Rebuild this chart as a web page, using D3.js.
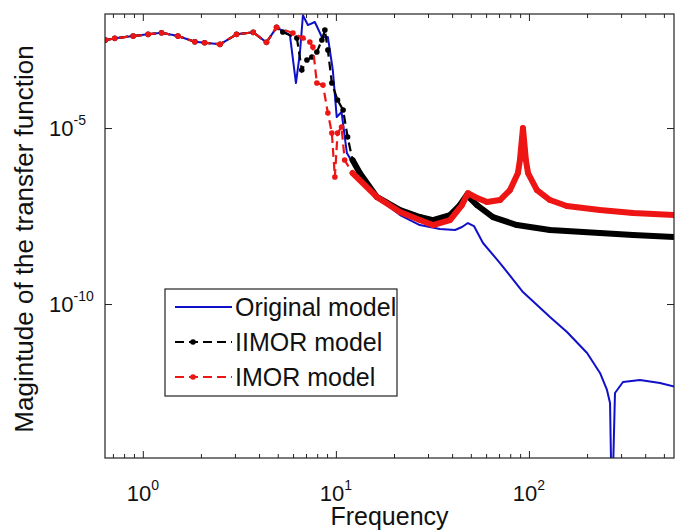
<!DOCTYPE html>
<html>
<head>
<meta charset="utf-8">
<script src="https://cdn.jsdelivr.net/npm/d3@7"></script>
<style>
  html, body { margin: 0; padding: 0; background: #fff; }
  svg { display: block; }
  text { font-family: "Liberation Sans", Arial, sans-serif; fill: #111; }
</style>
</head>
<body>
<svg id="chart" width="676" height="530"></svg>
<script>
// ---- data ----
// shared low-frequency part (all three models coincide)
const lowFreq = [0.64, 0.716, 0.891, 1.065, 1.25, 1.52, 1.86, 2.09, 2.51, 3.06, 3.73, 4.37, 4.93];
const lowMag  = [3.16e-3, 3.53e-3, 4.11e-3, 4.59e-3, 5.09e-3, 4.11e-3, 2.83e-3, 2.65e-3, 2.39e-3, 4.59e-3, 5.23e-3, 2.72e-3, 7.26e-3];

// Original model
const origFreq = [5.78, 6.21, 6.51, 6.75, 7.16, 7.78, 8.46, 9.09, 9.64, 10.1, 10.7, 11.4, 13.3, 16.9, 21.5, 27.2, 34.6, 41.4, 45.0, 48.3, 51.9, 57.8, 70.8, 93.1, 128.5, 157.4, 200, 233.4, 253.6, 263, 269, 279, 307, 376, 477, 578];
const origMag  = [4.39e-3, 1.90e-4, 1.35e-3, 1.6e-2, 8.43e-3, 1.03e-2, 3.85e-3, 3.85e-3, 4.45e-4, 2.05e-5, 2.85e-5, 1.95e-6, 4.62e-7, 9.0e-8, 3.37e-8, 1.75e-8, 1.35e-8, 1.27e-8, 1.54e-8, 2.0e-8, 1.64e-8, 5.41e-9, 1.46e-9, 2.19e-10, 4.27e-11, 1.60e-11, 4.06e-12, 1.10e-12, 3.61e-13, 1.54e-13, 1e-16, 2.96e-13, 6.08e-13, 6.93e-13, 5.70e-13, 4.39e-13];

// IIMOR model
const iimorFreq = [5.31, 6.28, 6.66, 7.08, 7.51, 7.97, 8.46, 8.77, 9.09, 9.53, 10.2, 10.9, 11.5, 12.2, 13.3, 16.3, 21.5, 27.2, 31.8, 39.0, 43.9, 47.7, 53.8, 65.1, 86.6, 128.5, 233, 346, 578];
const iimorMag  = [5.34e-3, 3.61e-3, 4.45e-4, 8.55e-4, 1.04e-3, 1.44e-3, 3.16e-3, 6.08e-3, 1.64e-3, 1.90e-4, 6.24e-5, 3.25e-5, 5.55e-6, 1.23e-6, 5.27e-7, 1.10e-7, 4.68e-8, 2.96e-8, 2.43e-8, 3.37e-8, 6.49e-8, 1.25e-7, 6.49e-8, 2.96e-8, 1.75e-8, 1.27e-8, 1.04e-8, 9.1e-9, 8.0e-9];

// IMOR model
const imorFreq = [5.99, 6.75, 7.33, 7.60, 7.97, 8.57, 9.09, 9.53, 9.88, 10.2, 10.7, 11.1, 12.2, 16.3, 21.5, 27.2, 31.8, 39.0, 45.0, 48.3, 52.5, 60.6, 70.8, 79.8, 87.7, 89.8, 93.1, 96.4, 98.9, 110, 128.5, 157, 233, 346, 578];
const imorMag  = [5.0e-3, 3.61e-3, 2.77e-3, 2.0e-3, 1.90e-4, 1.67e-4, 2.67e-5, 7.2e-6, 4.06e-7, 7.2e-6, 1.07e-5, 1.23e-6, 5.27e-7, 1.10e-7, 4.11e-8, 2.43e-8, 1.75e-8, 2.43e-8, 6.49e-8, 1.42e-7, 1.10e-7, 7.9e-8, 9.0e-8, 1.73e-7, 5.27e-7, 1.23e-6, 1.0e-5, 1.23e-6, 5.27e-7, 1.73e-7, 9.0e-8, 6.08e-8, 4.68e-8, 3.85e-8, 3.37e-8];

const seriesNames = ["Original model", "IIMOR model", "IMOR model"];
const xMajorTicks = [1, 10, 100];
const xTickExponents = ["0", "1", "2"];
const yMajorTicks = [1e-5, 1e-10];
const yTickExponents = ["-5", "-10"];
const xLabel = "Frequency";
const yLabel = "Magintude of the transfer function";

// ---- layout ----
const L = 105, R = 674, T = 14, B = 458;
const svg = d3.select("#chart");

const x = d3.scaleLog().domain([0.637, 564]).range([L, R]);
const y = d3.scaleLog().domain([Math.pow(10, -14.375), Math.pow(10, -1.76)]).range([B, T]);

const toPts = (f, m) => f.map((v, i) => ({ f: v, m: m[i] }));
const origPts  = toPts(lowFreq.concat(origFreq),  lowMag.concat(origMag));
const iimorPts = toPts(lowFreq.concat(iimorFreq), lowMag.concat(iimorMag));
const imorPts  = toPts(lowFreq.concat(imorFreq),  lowMag.concat(imorMag));

svg.append("defs").append("clipPath").attr("id", "clip")
  .append("rect").attr("x", L).attr("y", T).attr("width", R - L).attr("height", B - T);

const line = d3.line().x(d => x(d.f)).y(d => y(d.m));
const plot = svg.append("g").attr("clip-path", "url(#clip)");

const BLUE = "#1010c8", RED = "#ee1515", BLACK = "#000";

// original (solid blue)
plot.append("path").datum(origPts).attr("d", line)
  .attr("fill", "none").attr("stroke", BLUE).attr("stroke-width", 2).attr("stroke-linejoin", "round");

function drawModel(pts, color) {
  plot.append("path").datum(pts).attr("d", line)
    .attr("fill", "none").attr("stroke", color).attr("stroke-width", 2.2)
    .attr("stroke-dasharray", "9,5");
  // dense sampling region drawn as thick band
  plot.append("path").datum(pts.filter(d => d.f >= 12)).attr("d", line)
    .attr("fill", "none").attr("stroke", color).attr("stroke-width", 6)
    .attr("stroke-linejoin", "round").attr("stroke-linecap", "round");
  plot.selectAll(null).data(pts).enter().append("circle")
    .attr("cx", d => x(d.f)).attr("cy", d => y(d.m)).attr("r", 2.8).attr("fill", color);
}
drawModel(iimorPts, BLACK);
drawModel(imorPts, RED);

// ---- axes ----
const xMinor = [];
[0.1, 1, 10, 100].forEach(dec => { for (let k = 2; k <= 9; k++) { const v = dec * k; if (v >= 0.637 && v <= 564) xMinor.push(v); } });

const axStyle = g => { g.select(".domain").remove(); g.selectAll("line").attr("stroke", "#222"); };
svg.append("g").attr("transform", `translate(0,${B})`)
  .call(d3.axisBottom(x).tickValues(xMinor).tickSize(-4).tickFormat("")).call(axStyle);
svg.append("g").attr("transform", `translate(0,${B})`)
  .call(d3.axisBottom(x).tickValues(xMajorTicks).tickSize(-7).tickFormat("")).call(axStyle);
svg.append("g").attr("transform", `translate(0,${T})`)
  .call(d3.axisTop(x).tickValues(xMinor).tickSize(-4).tickFormat("")).call(axStyle);
svg.append("g").attr("transform", `translate(0,${T})`)
  .call(d3.axisTop(x).tickValues(xMajorTicks).tickSize(-7).tickFormat("")).call(axStyle);
svg.append("g").attr("transform", `translate(${L},0)`)
  .call(d3.axisLeft(y).tickValues(yMajorTicks).tickSize(-7).tickFormat("")).call(axStyle);
svg.append("g").attr("transform", `translate(${R},0)`)
  .call(d3.axisRight(y).tickValues(yMajorTicks).tickSize(-7).tickFormat("")).call(axStyle);

svg.append("rect").attr("x", L).attr("y", T).attr("width", R - L).attr("height", B - T)
  .attr("fill", "none").attr("stroke", "#222").attr("stroke-width", 1.2);

// tick labels
xMajorTicks.forEach((v, i) => {
  const t = svg.append("text").attr("x", x(v)).attr("y", 501).attr("text-anchor", "middle").attr("font-size", 22);
  t.append("tspan").text("10");
  t.append("tspan").attr("font-size", 14).attr("dy", -11).text(xTickExponents[i]);
});
yMajorTicks.forEach((v, i) => {
  const t = svg.append("text").attr("x", 49).attr("y", y(v) + 8).attr("font-size", 22);
  t.append("tspan").text("10");
  t.append("tspan").attr("font-size", 14).attr("dy", -11).text(yTickExponents[i]);
});

svg.append("text").attr("x", (L + R) / 2).attr("y", 525).attr("text-anchor", "middle")
  .attr("font-size", 25).text(xLabel);
svg.append("text").attr("transform", `translate(33,${(T + B) / 2 + 3}) rotate(-90)`)
  .attr("text-anchor", "middle").attr("font-size", 26).text(yLabel);

// ---- legend ----
const lg = svg.append("g");
lg.append("rect").attr("x", 165).attr("y", 289).attr("width", 232).attr("height", 107)
  .attr("fill", "#fff").attr("stroke", "#222").attr("stroke-width", 1.2);
const legendColors = [BLUE, BLACK, RED];
seriesNames.forEach((name, i) => {
  const cy = 307 + i * 35;
  const ln = lg.append("line").attr("x1", 175).attr("x2", 232).attr("y1", cy).attr("y2", cy)
    .attr("stroke", legendColors[i]).attr("stroke-width", 2);
  if (i > 0) {
    ln.attr("stroke-dasharray", "9,5");
    lg.append("circle").attr("cx", 193).attr("cy", cy).attr("r", 2.8).attr("fill", legendColors[i]);
  }
  lg.append("text").attr("x", 235).attr("y", cy + 9).attr("font-size", 25).text(name);
});
</script>
</body>
</html>
